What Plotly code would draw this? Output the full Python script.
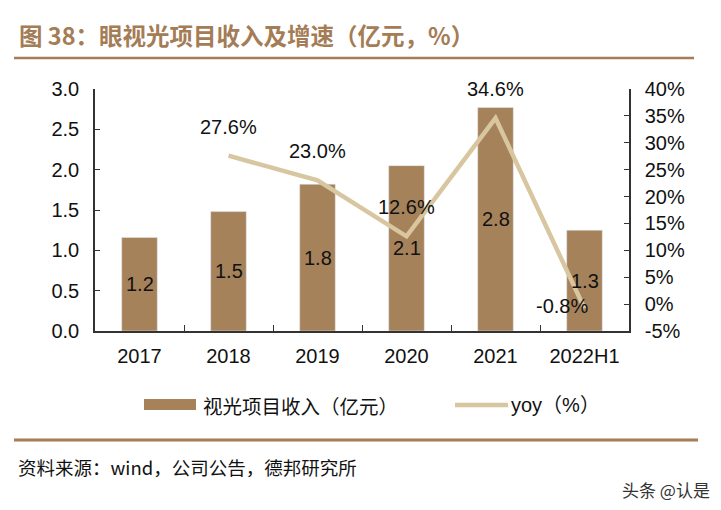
import plotly.graph_objects as go

categories = ["2017", "2018", "2019", "2020", "2021", "2022H1"]
revenue = [1.16, 1.48, 1.82, 2.05, 2.77, 1.25]
revenue_labels = ["1.2", "1.5", "1.8", "2.1", "2.8", "1.3"]
yoy_categories = ["2018", "2019", "2020", "2021", "2022H1"]
yoy = [27.6, 23.0, 12.6, 34.6, -0.8]
yoy_labels = ["27.6%", "23.0%", "12.6%", "34.6%", "-0.8%"]
y2_tickvals = [-5, 0, 5, 10, 15, 20, 25, 30, 35, 40]
y2_ticktext = ["-5%", "0%", "5%", "10%", "15%", "20%", "25%", "30%", "35%", "40%"]

OFF = 8  # browser body margin
W, H = 721 - OFF, 510 - OFF
L, R, T, B = 95 - OFF, 92, 89 - OFF, 179
PW, PH = W - L - R, H - T - B

def px(x):
    return (x - OFF - L) / PW

def py(y):
    return (H - B - (y - OFF)) / PH

BAR = "#a6825b"
LINE = "#d8c6a0"
BROWN = "#a47c56"
FONT = "Liberation Sans, Arial, Noto Sans CJK SC, sans-serif"
CJK = "Noto Sans CJK SC, sans-serif"

fig = go.Figure()
fig.add_trace(go.Bar(x=categories, y=revenue, marker_color=BAR, width=0.4,
                     name="视光项目收入（亿元）", showlegend=False))
fig.add_trace(go.Scatter(x=yoy_categories, y=yoy, yaxis="y2", mode="lines",
                         line=dict(color=LINE, width=4.5), name="yoy（%）",
                         showlegend=False))

ann = []
for i, (v, t) in enumerate(zip(revenue, revenue_labels)):
    ann.append(dict(x=i, y=v / 2, xref="x", yref="y", text=t, showarrow=False,
                    font=dict(size=20, color="#111", family=FONT)))
for c, v, t in zip(yoy_categories, yoy, yoy_labels):
    i = categories.index(c)
    if v < 0:
        xs, ys = -23, 2
    else:
        xs, ys = 0, 29
    ann.append(dict(x=i, y=v, xref="x", yref="y2", text=t, showarrow=False,
                    xshift=xs, yshift=ys,
                    font=dict(size=20, color="#111", family=FONT)))

# title
ann.append(dict(x=px(17), y=py(35), xref="paper", yref="paper", xanchor="left",
                yanchor="middle", showarrow=False,
                text="<b>图 38：眼视光项目收入及增速（亿元，%）</b>",
                font=dict(size=23.5, color=BROWN, family=CJK)))
# legend texts
ann.append(dict(x=px(201), y=py(405), xref="paper", yref="paper", xanchor="left",
                yanchor="middle", showarrow=False, text="视光项目收入（亿元）",
                font=dict(size=19.5, color="#111", family=CJK)))
ann.append(dict(x=px(509), y=py(405), xref="paper", yref="paper", xanchor="left",
                yanchor="middle", showarrow=False, text="yoy（%）",
                font=dict(size=20, color="#111", family=FONT)))
# source
ann.append(dict(x=px(16), y=py(467), xref="paper", yref="paper", xanchor="left",
                yanchor="middle", showarrow=False,
                text="资料来源：wind，公司公告，德邦研究所",
                font=dict(size=18.5, color="#111", family=CJK)))
# watermark
ann.append(dict(x=px(712), y=py(489), xref="paper", yref="paper", xanchor="right",
                yanchor="middle", showarrow=False, text="头条 @认是",
                font=dict(size=17, color="#333", family=CJK)))

shapes = [
    dict(type="line", xref="paper", yref="paper", x0=px(14), x1=px(694),
         y0=py(58), y1=py(58), line=dict(color=BROWN, width=2.5)),
    dict(type="rect", xref="paper", yref="paper", x0=px(144), x1=px(196),
         y0=py(410), y1=py(399), fillcolor=BAR, line=dict(width=0)),
    dict(type="line", xref="paper", yref="paper", x0=px(455), x1=px(508),
         y0=py(405), y1=py(405), line=dict(color=LINE, width=4.5)),
    dict(type="line", xref="paper", yref="paper", x0=px(14), x1=px(698),
         y0=py(440), y1=py(440), line=dict(color=BROWN, width=3)),
]

fig.update_layout(
    width=W, height=H, margin=dict(l=L, r=R, t=T, b=B),
    paper_bgcolor="white", plot_bgcolor="white",
    font=dict(family=FONT, size=20, color="#111"),
    xaxis=dict(type="category", showline=True, linecolor="#333", linewidth=1.5,
               ticks="inside", ticklen=6, tickcolor="#333", tickson="boundaries",
               showgrid=False, tickfont=dict(size=20), range=[-0.5, 5.5],
               ticklabelstandoff=6),
    yaxis=dict(range=[0, 3], dtick=0.5, tickformat=".1f", showline=True,
               linecolor="#333", linewidth=1.5, ticks="inside", ticklen=5,
               tickcolor="#333", showgrid=False, zeroline=False,
               tickfont=dict(size=20), ticklabelstandoff=10),
    yaxis2=dict(range=[-5, 40], tickvals=y2_tickvals, ticktext=y2_ticktext,
                overlaying="y", side="right", showline=True, linecolor="#333",
                linewidth=1.5, ticks="inside", ticklen=5, tickcolor="#333",
                showgrid=False, zeroline=False, tickfont=dict(size=20),
                ticklabelstandoff=10),
    annotations=ann, shapes=shapes, showlegend=False,
)

fig.write_html("out.html")
